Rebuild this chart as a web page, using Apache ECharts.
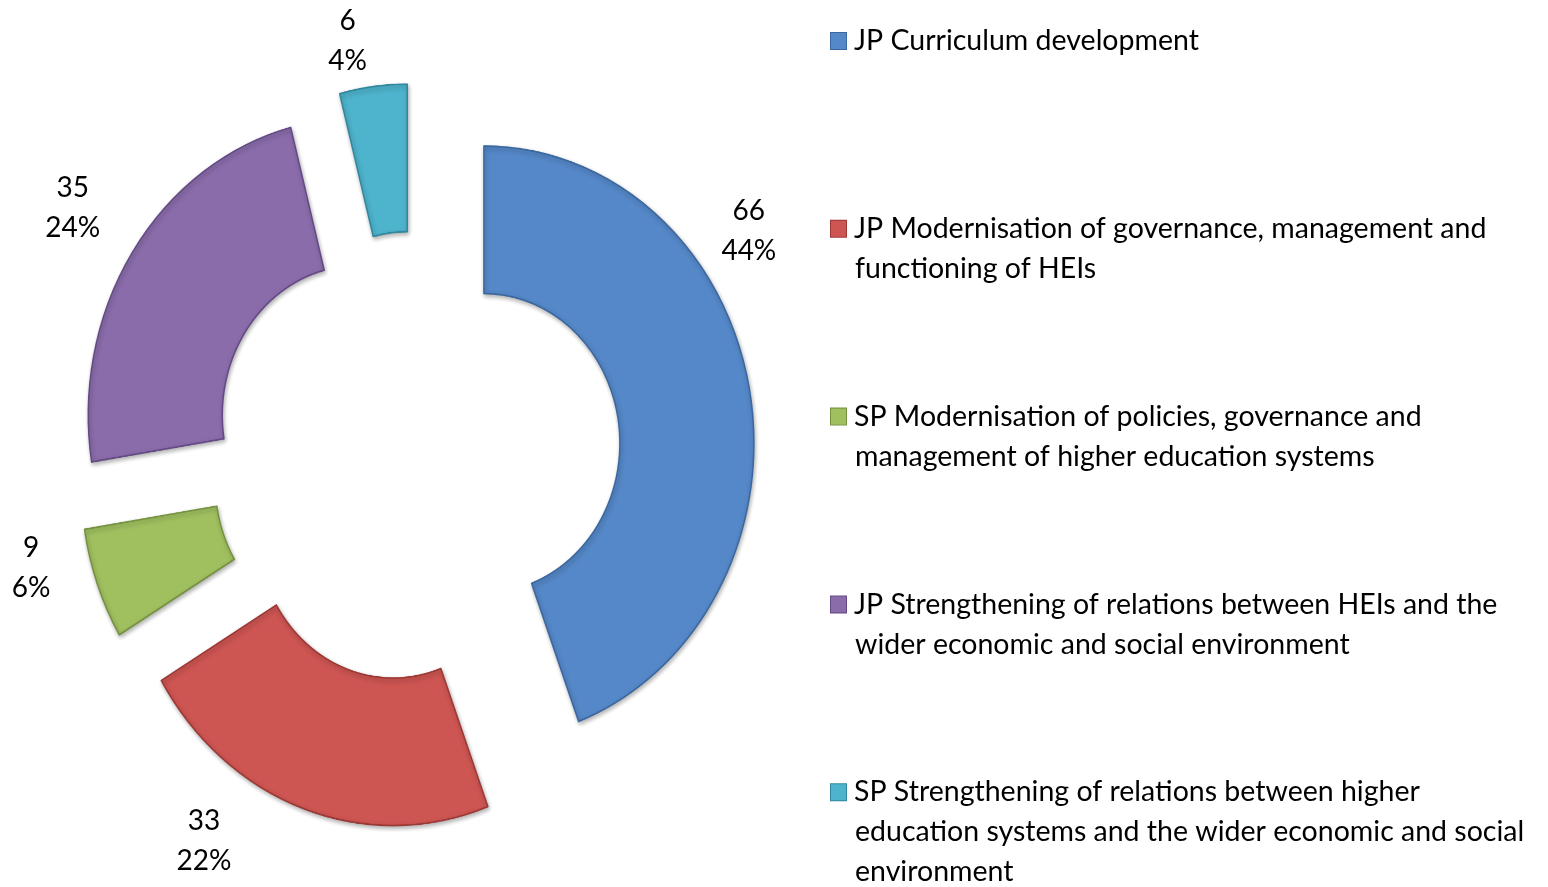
<!DOCTYPE html>
<html>
<head>
<meta charset="utf-8">
<script src="https://cdn.jsdelivr.net/npm/echarts@6/dist/echarts.min.js"></script>
<style>
    html, body { margin: 0; padding: 0; background: #fff; width: 1548px; height: 887px; overflow: hidden; position: relative; }
    /* the doughnut in the original is stretched a little vertically */
    #pie { position: absolute; left: 0; top: 0; width: 1548px; height: 806px; transform: scaleY(1.1005); transform-origin: 0 0; }
    #texts { position: absolute; left: 0; top: 0; width: 1548px; height: 887px; pointer-events: none; }
</style>
</head>
<body>
<div id="pie"></div>
<div id="texts"></div>
<script>
var categories = [
    'JP Curriculum development',
    'JP Modernisation of governance, management and\nfunctioning of HEIs',
    'SP Modernisation of policies, governance and\nmanagement of higher education systems',
    'JP Strengthening of relations between HEIs and the\nwider economic and social environment',
    'SP Strengthening of relations between higher\neducation systems and the wider economic and social\nenvironment'
];
var counts = [66, 33, 9, 35, 6];
var colors = ['#5588c8', '#cd5552', '#a0c060', '#8a6caa', '#4eb3cc'];
var edgeColors = ['#3a679f', '#9c3835', '#75913f', '#644a85', '#31879e'];

var fontName = 'Lato, "Open Sans", sans-serif';

// nudges that move each data label to where Excel put it
var labelNudgeX = [-110, -20, 41, 43, 45];
var labelNudgeY = [-158, 22, -20, -39, -35];

// doughnut, drawn in the stretched layer
var pie = echarts.init(document.getElementById('pie'), null, { devicePixelRatio: 2 });

var pieData = [];
for (var i = 0; i < categories.length; i++) {
    var style = {
        color: colors[i],
        borderColor: edgeColors[i],
        borderWidth: 1.5,
        shadowColor: 'rgba(0,0,0,0.3)',
        shadowBlur: 4,
        shadowOffsetX: 1,
        shadowOffsetY: 2
    };
    pieData.push({
        name: categories[i],
        value: counts[i],
        selected: true,
        itemStyle: style,
        select: { itemStyle: style }
    });
}

pie.setOption({
    animation: false,
    series: [{
        type: 'pie',
        center: [416, 415],
        radius: [136, 270],
        startAngle: 90,
        clockwise: true,
        selectedMode: 'multiple',
        selectedOffset: 69,
        emphasis: { disabled: true },
        label: { show: false },
        labelLine: { show: false },
        data: pieData
    }]
});

// labels and legend, drawn unstretched on top
var texts = echarts.init(document.getElementById('texts'));

var labelData = [];
for (var n = 0; n < categories.length; n++) {
    labelData.push({
        name: categories[n],
        value: counts[n],
        selected: true,
        itemStyle: { color: 'rgba(0,0,0,0)' },
        select: { itemStyle: { color: 'rgba(0,0,0,0)' } }
    });
}

var rich = {
    t: { fontSize: 28.5, lineHeight: 40, color: '#000', fontFamily: fontName },
    g: { width: 8, lineHeight: 40 },
    ind: { width: 24, lineHeight: 40 }
};
for (var k = 0; k < colors.length; k++) {
    rich['s' + k] = {
        width: 15,
        height: 16,
        backgroundColor: colors[k],
        borderColor: edgeColors[k],
        borderWidth: 1,
        lineHeight: 40
    };
}

texts.setOption({
    animation: false,
    legend: {
        orient: 'vertical',
        left: 826,
        top: 26.5,
        height: 1000,
        padding: 0,
        icon: 'none',
        itemWidth: 0,
        itemHeight: 10,
        itemGap: 78.8,
        selectedMode: false,
        data: categories,
        formatter: function(name) {
            var idx = categories.indexOf(name);
            var lines = name.split('\n');
            var out = ['{s' + idx + '| }{g| }{t|' + lines[0] + '}'];
            for (var j = 1; j < lines.length; j++) {
                out.push('{ind| }{t|' + lines[j] + '}');
            }
            while (out.length < 3) {
                out.push('{t| }');
            }
            return out.join('\n');
        },
        textStyle: { rich: rich }
    },
    series: [{
        type: 'pie',
        center: [416, 457],
        radius: [150, 297],
        startAngle: 90,
        clockwise: true,
        selectedMode: 'multiple',
        selectedOffset: 72,
        percentPrecision: 0,
        silent: true,
        emphasis: { disabled: true },
        label: {
            show: true,
            position: 'outside',
            formatter: '{v|{c}}\n{v|{d}%}',
            rich: {
                v: {
                    width: 60,
                    align: 'center',
                    fontSize: 28,
                    lineHeight: 40,
                    color: '#000',
                    fontFamily: fontName
                }
            },
            verticalAlign: 'middle'
        },
        labelLine: { show: false },
        labelLayout: function(params) {
            return {
                dx: labelNudgeX[params.dataIndex],
                dy: labelNudgeY[params.dataIndex]
            };
        },
        data: labelData
    }]
});
</script>
</body>
</html>
